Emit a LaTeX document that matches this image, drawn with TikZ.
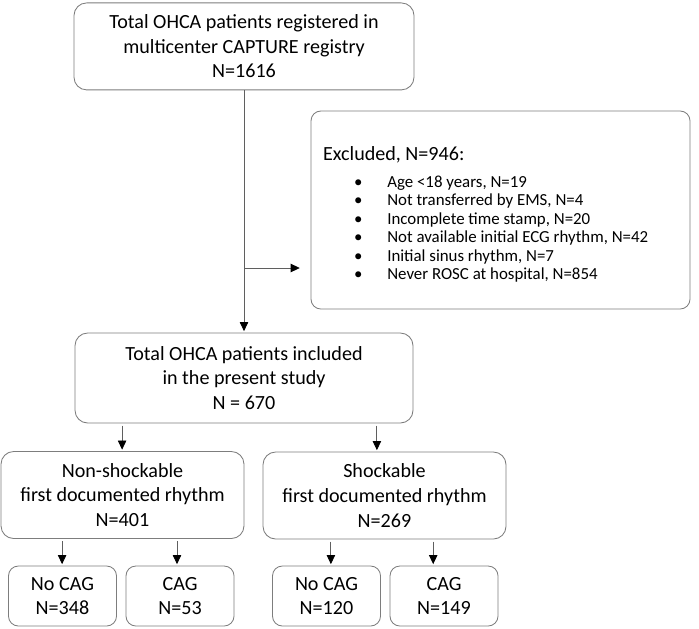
\documentclass[tikz,border=0pt]{standalone}
\usepackage{fontspec}
\setmainfont{Carlito}
\definecolor{boxgray}{RGB}{125,125,125}
\definecolor{linegray}{RGB}{95,95,95}
\usetikzlibrary{arrows.meta, positioning}

\begin{document}
\begin{tikzpicture}[
  box/.style={draw=boxgray, line width=0.6pt, rounded corners=9pt, align=center, inner sep=2pt, font=\fontsize{14.3}{17.5}\selectfont},
  smallbox/.style={box, rounded corners=7pt, minimum width=2.7cm, minimum height=1.5cm},
  rowbox/.style={box, minimum width=6.075cm, minimum height=2.175cm},
  arr/.style={draw=linegray, line width=0.6pt, -{Triangle[width=6pt, length=6.5pt, color=black]}, shorten >=1pt}
]
  \useasboundingbox (0,0) rectangle (17.475,-15.7);

  % Registry
  \node[box, minimum width=8.5cm, minimum height=2.175cm] (registry) at (6.1,-1.16) {
    Total OHCA patients registered in\\multicenter CAPTURE registry\\N=1616
  };

  % Excluded
  \node[box, rounded corners=7pt, minimum width=9.475cm, minimum height=4.95cm] (excl) at (12.5125,-5.25) {};
  \node[anchor=west, inner sep=0pt, font=\fontsize{14.3}{17.5}\selectfont] (exclhead) at (8.07,-3.88) {Excluded, N=946:};
  \node[anchor=north west, align=left, inner sep=0pt, font=\fontsize{12}{13.2}\selectfont] (excllist) at (8.845,-4.38) {
    \makebox[0.83cm][l]{\textbullet}Age <18 years, N=19\\
    \makebox[0.83cm][l]{\textbullet}Not transferred by EMS, N=4\\
    \makebox[0.83cm][l]{\textbullet}Incomplete time stamp, N=20\\
    \makebox[0.83cm][l]{\textbullet}Not available initial ECG rhythm, N=42\\
    \makebox[0.83cm][l]{\textbullet}Initial sinus rhythm, N=7\\
    \makebox[0.83cm][l]{\textbullet}Never ROSC at hospital, N=854
  };

  % Study population
  \node[box, minimum width=8.45cm, minimum height=2.25cm] (study) at (6.1,-9.45) {
    Total OHCA patients included\\in the present study\\N = 670
  };

  % Rhythm groups
  \node[rowbox] (nonshock) at (3.0625,-12.375) {Non-shockable\\first documented rhythm\\N=401};
  \node[rowbox] (shock) at (9.6125,-12.3875) {Shockable\\first documented rhythm\\N=269};

  % CAG groups
  \node[smallbox] (nocagA) at (1.5625,-14.9) {No CAG\\N=348};
  \node[smallbox] (cagA) at (4.5,-14.9) {CAG\\N=53};
  \node[smallbox] (nocagB) at (8.1625,-14.9) {No CAG\\N=120};
  \node[smallbox] (cagB) at (11.1,-14.9) {CAG\\N=149};

  % Connectors
  \coordinate (split) at (6.1,-6.7);
  \draw[arr] (registry.south) -- (study.north);
  \draw[arr, shorten >=0.27cm] (split) -- (split -| excl.west);

  \draw[arr, shorten <=1.5pt] ([xshift=-0.01cm]nonshock.north |- study.south) -- ([xshift=-0.01cm]nonshock.north);
  \draw[arr, shorten <=1.5pt] ([xshift=-0.19cm]shock.north |- study.south) -- ([xshift=-0.19cm]shock.north);
  \draw[arr, shorten <=1.5pt] ([xshift=-0.01cm]nocagA.north |- nonshock.south) -- ([xshift=-0.01cm]nocagA.north);
  \draw[arr, shorten <=1.5pt] ([xshift=-0.075cm]cagA.north |- nonshock.south) -- ([xshift=-0.075cm]cagA.north);
  \draw[arr, shorten <=1.5pt] ([xshift=0.11cm]nocagB.north |- shock.south) -- ([xshift=0.11cm]nocagB.north);
  \draw[arr, shorten <=1.5pt] ([xshift=-0.27cm]cagB.north |- shock.south) -- ([xshift=-0.27cm]cagB.north);
\end{tikzpicture}
\end{document}
